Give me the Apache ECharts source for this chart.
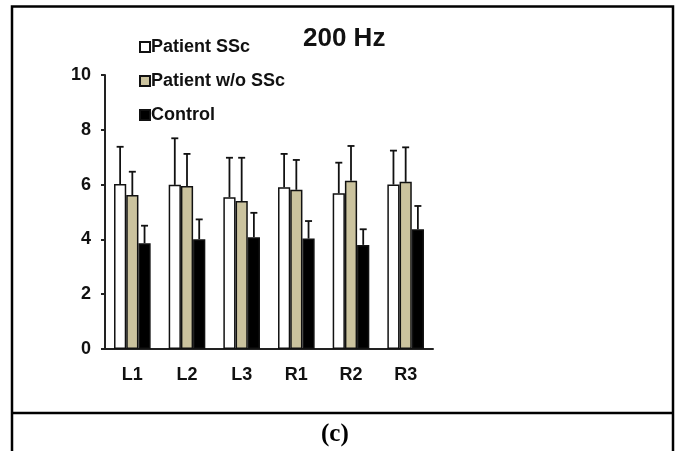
<!DOCTYPE html>
<html>
<head>
<meta charset="utf-8">
<script src="https://cdn.jsdelivr.net/npm/echarts@6/dist/echarts.min.js"></script>
<style>html,body{margin:0;padding:0;background:#fff;}#c{width:678px;height:451px;}</style>
</head>
<body>
<div id="c"></div>
<script>
var categories = ['L1', 'L2', 'L3', 'R1', 'R2', 'R3'];
var seriesNames = ['Patient SSc', 'Patient w/o SSc', 'Control'];
var patientSSc = [6.02, 5.99, 5.54, 5.90, 5.68, 6.00];
var patientSScErr = [1.36, 1.70, 1.44, 1.22, 1.12, 1.24];
var patientNoSSc = [5.62, 5.95, 5.40, 5.81, 6.14, 6.10];
var patientNoSScErr = [0.85, 1.17, 1.58, 1.09, 1.27, 1.26];
var control = [3.86, 4.01, 4.08, 4.03, 3.80, 4.37];
var controlErr = [0.64, 0.72, 0.89, 0.64, 0.57, 0.85];
var yTicks = [0, 2, 4, 6, 8, 10];

var colors = ['#ffffff', '#cbc39e', '#000000'];
var values = [patientSSc, patientNoSSc, control];
var errs = [patientSScErr, patientNoSScErr, controlErr];
var catGap = 0.33;

var chart = echarts.init(document.getElementById('c'), null, {renderer: 'canvas'});
var series = [];
values.forEach(function (vals, si) {
  series.push({
    name: seriesNames[si],
    type: 'bar',
    data: vals,
    barGap: '0%',
    barCategoryGap: (catGap * 100) + '%',
    itemStyle: {color: colors[si], borderColor: '#111', borderWidth: 1.5},
    emphasis: {disabled: true},
    z: 2
  });
});
values.forEach(function (vals, si) {
  series.push({
    type: 'custom',
    data: vals.map(function (v, i) { return [i, v, v + errs[si][i]]; }),
    renderItem: function (params, api) {
      var base = api.coord([api.value(0), api.value(1)]);
      var top = api.coord([api.value(0), api.value(2)]);
      var band = api.size([1, 0])[0];
      var w = band * (1 - catGap) / 3;
      var x = base[0] + (si - 1) * w;
      var cap = 3.5;
      return {
        type: 'group',
        children: [
          {type: 'line', shape: {x1: x, y1: base[1], x2: x, y2: top[1]}, style: {stroke: '#111', lineWidth: 1.8}},
          {type: 'line', shape: {x1: x - cap, y1: top[1], x2: x + cap, y2: top[1]}, style: {stroke: '#111', lineWidth: 1.8}}
        ]
      };
    },
    z: 3,
    silent: true
  });
});

chart.setOption({
  animation: false,
  backgroundColor: '#fff',
  title: {
    text: '200 Hz', left: 298, top: 21,
    textStyle: {fontFamily: 'Liberation Sans, Arial, sans-serif', fontWeight: 'bold', fontSize: 26, color: '#111'}
  },
  legend: {
    orient: 'vertical', left: 134, top: 33,
    itemWidth: 10, itemHeight: 10, itemGap: 16,
    icon: 'rect',
    data: seriesNames,
    textStyle: {fontFamily: 'Liberation Sans, Arial, sans-serif', fontWeight: 'bold', fontSize: 18, color: '#111', padding: [0, 0, 0, -4]},
    selectedMode: false
  },
  grid: {left: 105, right: 245, top: 75, bottom: 102, containLabel: false},
  xAxis: {
    type: 'category', data: categories,
    axisLine: {lineStyle: {color: '#222', width: 2}},
    axisTick: {show: false},
    axisLabel: {margin: 17, fontFamily: 'Liberation Sans, Arial, sans-serif', fontWeight: 'bold', fontSize: 18, color: '#111'}
  },
  yAxis: {
    type: 'value', min: yTicks[0], max: yTicks[yTicks.length - 1], interval: yTicks[1] - yTicks[0],
    splitLine: {show: false},
    axisLine: {show: true, lineStyle: {color: '#222', width: 2}},
    axisTick: {show: true, length: 4, lineStyle: {color: '#222', width: 2}},
    axisLabel: {margin: 14, fontFamily: 'Liberation Sans, Arial, sans-serif', fontWeight: 'bold', fontSize: 18, color: '#111'}
  },
  graphic: [
    {type: 'rect', shape: {x: 12, y: 6.5, width: 661, height: 460}, style: {fill: null, stroke: '#000', lineWidth: 2.5}, z: -1},
    {type: 'line', shape: {x1: 12, y1: 413, x2: 673, y2: 413}, style: {stroke: '#000', lineWidth: 2.5}},
    {type: 'text', left: 321, top: 422, style: {text: '(c)', font: 'bold 25px "Liberation Serif", "Times New Roman", serif', fill: '#000'}}
  ],
  series: series
});
</script>
</body>
</html>
